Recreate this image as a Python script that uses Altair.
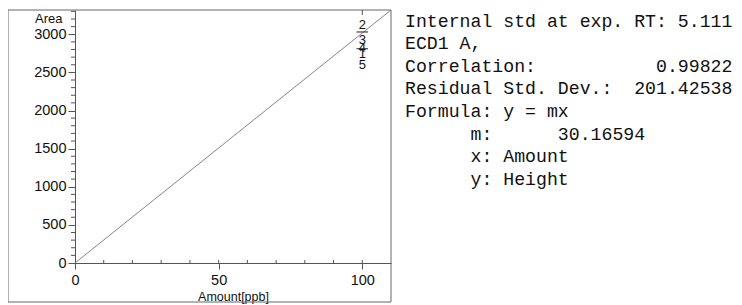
import altair as alt
import pandas as pd

# ---- data ----
fit_amount = [0, 110]
fit_area = [0, 3318.25]          # y = 30.16594 * x at the axis ends
point_ids = ["2", "3", "4", "1", "5"]
point_area = [3120, 2925, 2820, 2745, 2600]
point_amount = [100, 100, 100, 100, 100]
dash_area = [3030, 2810]
x_major = [0, 50, 100]
x_minor = [10, 20, 30, 40, 50, 60, 70, 80, 90, 100]
y_major = [0, 500, 1000, 1500, 2000, 2500, 3000]
y_minor = [v for v in range(100, 3400, 100) if v % 500 != 0]
info_main = [
    "Internal std at exp. RT: 5.111",
    "ECD1 A,",
    "Correlation:           0.99822",
    "Residual Std. Dev.:  201.42538",
    "Formula: y = mx",
]
info_sub = [
    "m:      30.16594",
    "x: Amount",
    "y: Height",
]
info_main = [s.replace(" ", "\u00a0") for s in info_main]
info_sub = [s.replace(" ", "\u00a0") for s in info_sub]

W, H = 316, 253
LINE = "#555555"
FS = 18.2
LH = 22.6
xs = alt.Scale(domain=[0, 110], nice=False, zero=True)
ys = alt.Scale(domain=[0, 3318.25], nice=False, zero=True)

one = pd.DataFrame({"k": [0]})

box = alt.Chart(one).mark_rect(fill=None, stroke="#666666", strokeWidth=1).encode(
    x=alt.value(-67), x2=alt.value(W), y=alt.value(0), y2=alt.value(292)
)

fit = alt.Chart(pd.DataFrame({"x": fit_amount, "y": fit_area})).mark_line(
    color="#777777", strokeWidth=0.9, clip=True
).encode(
    x=alt.X("x:Q", scale=xs, axis=alt.Axis(
        values=x_major, format="d", tickSize=6, tickColor=LINE, domainColor=LINE,
        labelFont="Liberation Sans", labelFontSize=14.5, labelColor="#111111",
        labelPadding=4, labelFlush=False, grid=False,
        title="Amount[ppb]", titleFont="Liberation Sans", titleFontSize=12.5,
        titleFontWeight="normal", titleColor="#111111", titlePadding=4)),
    y=alt.Y("y:Q", scale=ys, axis=alt.Axis(
        values=y_major, format="d", tickSize=7, tickColor=LINE, domainColor=LINE,
        labelFont="Liberation Sans", labelFontSize=14.5, labelColor="#111111",
        labelPadding=2, grid=False,
        title="Area", titleAngle=0, titleX=-13, titleY=8, titleAlign="right",
        titleBaseline="middle", titleFont="Liberation Sans", titleFontSize=13,
        titleFontWeight="normal", titleColor="#111111")),
)

yminor = alt.Chart(pd.DataFrame({"y": y_minor})).mark_rule(
    color=LINE, strokeWidth=1
).encode(y=alt.Y("y:Q", scale=ys), x=alt.value(-4), x2=alt.value(0))

xminor = alt.Chart(pd.DataFrame({"x": x_minor})).mark_rule(
    color=LINE, strokeWidth=1
).encode(x=alt.X("x:Q", scale=xs), y=alt.value(H - 3), y2=alt.value(H))

toptick = alt.Chart(pd.DataFrame({"x": [100]})).mark_rule(
    color=LINE, strokeWidth=1
).encode(x=alt.X("x:Q", scale=xs), y=alt.value(0), y2=alt.value(5))

dashes = alt.Chart(pd.DataFrame({"y": dash_area, "x": [98, 98], "x2": [102, 102]})).mark_rule(
    color="#222222", strokeWidth=1
).encode(x=alt.X("x:Q", scale=xs), x2="x2:Q", y=alt.Y("y:Q", scale=ys))

labels = alt.Chart(pd.DataFrame({"x": point_amount, "y": point_area, "t": point_ids})).mark_text(
    font="Liberation Sans", fontSize=13, color="#111111", baseline="middle", align="center"
).encode(x=alt.X("x:Q", scale=xs), y=alt.Y("y:Q", scale=ys), text="t:N")

info1 = alt.Chart(one).mark_text(
    text=info_main, font="Liberation Mono", fontSize=FS, lineHeight=LH,
    align="left", baseline="middle", color="#111111"
).encode(x=alt.value(330), y=alt.value(11.7))

info2 = alt.Chart(one).mark_text(
    text=info_sub, font="Liberation Mono", fontSize=FS, lineHeight=LH,
    align="left", baseline="middle", color="#111111"
).encode(x=alt.value(330 + 6 * 0.6 * FS), y=alt.value(11.7 + 5 * LH))

chart = alt.layer(box, fit, yminor, xminor, toptick, dashes, labels, info1, info2).properties(
    width=W, height=H,
    autosize=alt.AutoSizeParams(type="none"),
    padding={"left": 67, "top": 2, "right": 343, "bottom": 46},
).configure_view(stroke=None).configure_axis(domainWidth=1, tickWidth=1)

chart.save("out.html", embed_options={"renderer": "svg", "actions": False})
